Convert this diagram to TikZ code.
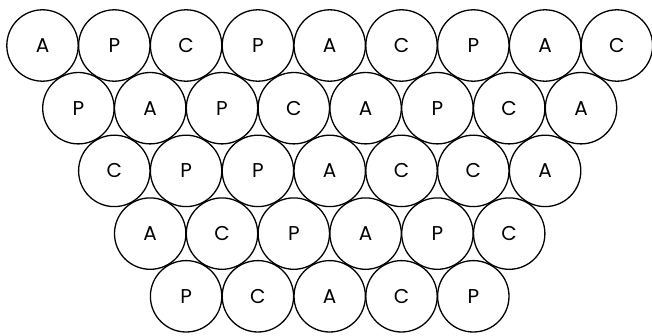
\documentclass[tikz,border=0pt]{standalone}
\usepackage{fontspec}
\setmainfont{Poppins}
\begin{document}
\begin{tikzpicture}[x=1pt,y=1pt,
  cell/.style={circle,draw,line width=1.3pt,minimum size=71.4pt,inner sep=0pt,
    font=\fontsize{20}{20}\selectfont}]
\useasboundingbox (0,0) rectangle (652,335);
\foreach \row/\letters in {0/{A,P,C,P,A,C,P,A,C},1/{P,A,P,C,A,P,C,A},2/{C,P,P,A,C,C,A},3/{A,C,P,A,P,C},4/{P,C,A,C,P}}{
  \foreach \L [count=\k from 0] in \letters {
    \node[cell] (n\row-\k) at ({42.5+71.8*(\k+0.5*\row)},{335-45.5-62.7*\row}) {\L};
  }
}
\end{tikzpicture}
\end{document}
